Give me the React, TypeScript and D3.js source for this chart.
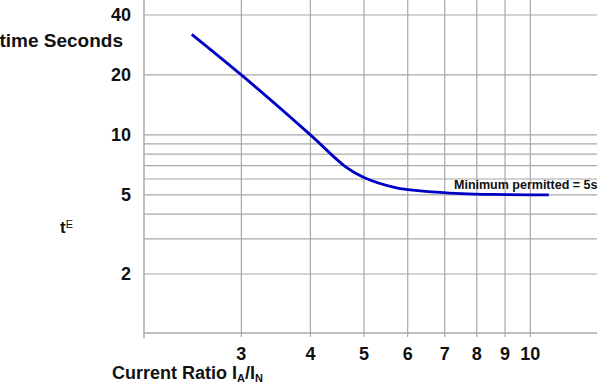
import React from "react";
import * as d3 from "d3";

// ---- data ----
const yTickLabels = [40, 20, 10, 5, 2];
const yGridValues = [40, 20, 10, 9, 8, 7, 6, 5, 4, 3, 2];
const xTickValues = [3, 4, 5, 6, 7, 8, 9, 10];
const curveRatio = [2.44, 3, 4, 4.62, 5, 5.7, 6.45, 7.5, 8.5, 10, 10.8];
const curveTime = [32, 20, 10, 6.95, 6.1, 5.43, 5.2, 5.07, 5.02, 5.0, 5.0];
const annotation = "Minimum permitted = 5s";

const W = 600;
const H = 384;
const FONT = "'Liberation Sans', Arial, Helvetica, sans-serif";

export default function App() {
  const x = d3.scaleLog().domain([2, 13.2]).range([144, 597]);
  const y = d3.scaleLog().domain([2, 40]).range([274, 15]);
  const axisY = 333;
  const gridColor = "#a8a8a8";

  const pts: [number, number][] = curveRatio.map((r, i) => [x(r), y(curveTime[i])]);
  const line = d3.line().curve(d3.curveCatmullRom.alpha(0.5))(pts) || "";

  const x0 = x.range()[0];
  const x1 = x.range()[1];

  return (
    <svg
      width={W}
      height={H}
      style={{ position: "absolute", left: 0, top: 0, background: "#fff" }}
      fontFamily={FONT}
    >
      <rect x={0} y={0} width={W} height={H} fill="#fff" />
      {/* horizontal gridlines */}
      {yGridValues.map((v) => (
        <line key={"h" + v} x1={x0} x2={x1} y1={y(v)} y2={y(v)} stroke={gridColor} strokeWidth={1.2} />
      ))}
      {/* vertical gridlines */}
      {xTickValues.map((v) => (
        <line key={"v" + v} x1={x(v)} x2={x(v)} y1={0} y2={axisY + 4} stroke={gridColor} strokeWidth={1.2} />
      ))}
      {/* axes */}
      <line x1={x0} x2={x0} y1={0} y2={axisY + 5} stroke={gridColor} strokeWidth={1.4} />
      <line x1={x0} x2={x1} y1={axisY} y2={axisY} stroke={gridColor} strokeWidth={1.4} />

      {/* y tick labels */}
      {yTickLabels.map((v) => (
        <text key={"yl" + v} x={131} y={y(v)} dy="0.36em" textAnchor="end" fontSize={18} fontWeight="bold" fill="#111">
          {v}
        </text>
      ))}
      {/* x tick labels */}
      {xTickValues.map((v) => (
        <text key={"xl" + v} x={x(v)} y={360} textAnchor="middle" fontSize={18} fontWeight="bold" fill="#111">
          {v}
        </text>
      ))}

      {/* curve */}
      <path d={line} fill="none" stroke="#0000c4" strokeWidth={2.8} strokeLinecap="butt" />

      {/* annotation */}
      <text x={454} y={188.5} fontSize={12.5} fontWeight="bold" fill="#111">
        {annotation}
      </text>

      {/* axis titles */}
      <text x={123} y={47} textAnchor="end" fontSize={19} fontWeight="bold" fill="#111">
        time Seconds
      </text>
      <text x={60} y={233} fontSize={17} fontWeight="bold" fill="#111">
        t
        <tspan fontSize={11} fontWeight="normal" dy={-5}>E</tspan>
      </text>
      <text x={112} y={379} fontSize={18} fontWeight="bold" fill="#111">
        Current Ratio I
        <tspan fontSize={11} dy={2.5}>A</tspan>
        <tspan dy={-2.5}>/I</tspan>
        <tspan fontSize={11} dy={2.5}>N</tspan>
      </text>
    </svg>
  );
}
